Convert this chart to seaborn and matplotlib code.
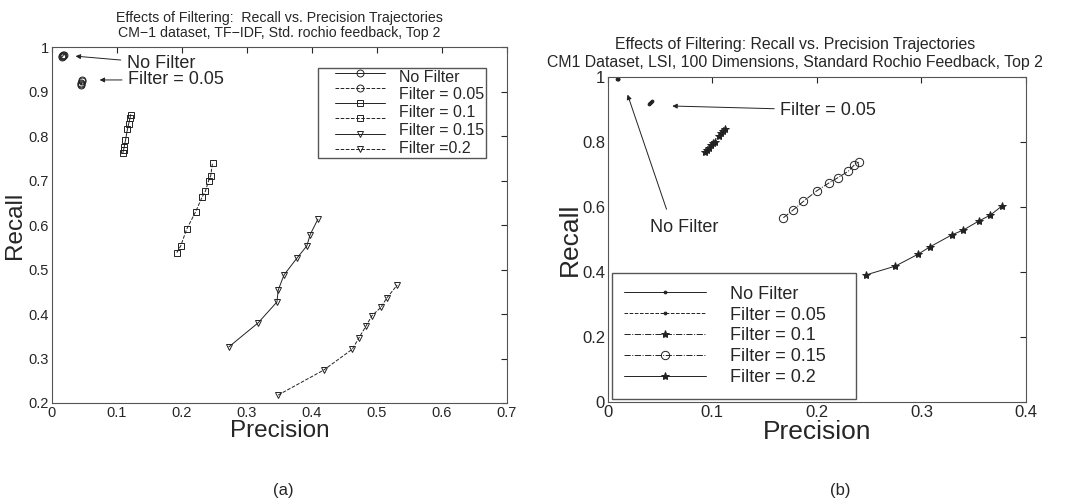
import seaborn as sns
import matplotlib.pyplot as plt
from matplotlib.lines import Line2D
from matplotlib.ticker import FuncFormatter

# ---- data ----
# (a) CM-1, TF-IDF
a_labels = ['No Filter', 'Filter = 0.05', 'Filter = 0.1', 'Filter = 0.15', 'Filter =0.2']
a_nofilter_p = [0.015, 0.016, 0.017, 0.017, 0.018]
a_nofilter_r = [0.978, 0.979, 0.980, 0.981, 0.983]
a_f005_p = [0.044, 0.045, 0.045, 0.046, 0.046]
a_f005_r = [0.914, 0.917, 0.920, 0.923, 0.926]
a_f01_p = [0.109, 0.110, 0.111, 0.113, 0.116, 0.118, 0.120, 0.121]
a_f01_r = [0.762, 0.768, 0.775, 0.790, 0.815, 0.828, 0.840, 0.848]
a_f015sq_p = [0.192, 0.198, 0.207, 0.221, 0.231, 0.236, 0.241, 0.244, 0.247]
a_f015sq_r = [0.538, 0.553, 0.590, 0.630, 0.663, 0.676, 0.700, 0.710, 0.740]
a_f015_p = [0.272, 0.317, 0.346, 0.348, 0.357, 0.377, 0.392, 0.397, 0.409]
a_f015_r = [0.326, 0.380, 0.427, 0.454, 0.488, 0.526, 0.553, 0.578, 0.613]
a_f02_p = [0.348, 0.418, 0.462, 0.472, 0.483, 0.492, 0.506, 0.515, 0.531]
a_f02_r = [0.218, 0.274, 0.321, 0.346, 0.373, 0.396, 0.415, 0.436, 0.465]

# (b) CM1, LSI 100 dims
b_labels = ['No Filter', 'Filter = 0.05', 'Filter = 0.1', 'Filter = 0.15', 'Filter = 0.2']
b_nofilter_p = [0.009, 0.0095, 0.010]
b_nofilter_r = [0.993, 0.994, 0.995]
b_f005_p = [0.039, 0.040, 0.041, 0.042]
b_f005_r = [0.918, 0.921, 0.924, 0.926]
b_f01_p = [0.093, 0.095, 0.097, 0.099, 0.101, 0.103, 0.106, 0.108, 0.110, 0.112]
b_f01_r = [0.768, 0.775, 0.782, 0.790, 0.797, 0.800, 0.820, 0.828, 0.835, 0.840]
b_f015_p = [0.168, 0.177, 0.187, 0.200, 0.212, 0.220, 0.230, 0.236, 0.240]
b_f015_r = [0.567, 0.590, 0.617, 0.650, 0.675, 0.690, 0.710, 0.730, 0.738]
b_f02_p = [0.247, 0.275, 0.297, 0.308, 0.329, 0.340, 0.355, 0.366, 0.377]
b_f02_r = [0.391, 0.418, 0.455, 0.477, 0.514, 0.529, 0.557, 0.575, 0.603]

sns.set_style('white')
plt.rcParams['font.family'] = ['Liberation Sans', 'DejaVu Sans']

fig = plt.figure(figsize=(10.72, 5.04), dpi=100)
ax1 = fig.add_axes([0.0485, 0.2004, 0.4245, 0.7063])
ax2 = fig.add_axes([0.567, 0.2024, 0.390, 0.6448])

ink = '#222222'
fmt = FuncFormatter(lambda v, pos: '%g' % round(v, 3))

# ---- panel (a) ----
a_series = [(a_nofilter_p, a_nofilter_r, '-', 'o'),
            (a_f005_p, a_f005_r, '--', 'o'),
            (a_f01_p, a_f01_r, '-', 's'),
            (a_f015sq_p, a_f015sq_r, '--', 's'),
            (a_f015_p, a_f015_r, '-', 'v'),
            (a_f02_p, a_f02_r, '--', 'v')]
for px, ry, ls, mk in a_series:
    sns.lineplot(x=px, y=ry, ax=ax1, sort=False, estimator=None, color=ink,
                 linestyle=ls, linewidth=0.7, marker=mk, markersize=5,
                 markerfacecolor='none', markeredgecolor=ink, markeredgewidth=0.7)

ax1.set_xlim(0, 0.7)
ax1.set_ylim(0.2, 1.0)
ax1.set_xticks([0, 0.1, 0.2, 0.3, 0.4, 0.5, 0.6, 0.7])
ax1.set_yticks([0.2, 0.3, 0.4, 0.5, 0.6, 0.7, 0.8, 0.9, 1.0])
ax1.xaxis.set_major_formatter(fmt)
ax1.yaxis.set_major_formatter(fmt)
ax1.tick_params(labelsize=10.5, direction='in', top=True, right=True, length=4, pad=2)
ax1.set_xlabel('Precision', fontsize=17.5, labelpad=0)
ax1.set_ylabel('Recall', fontsize=17.5, labelpad=2)
ax1.set_title('Effects of Filtering:  Recall vs. Precision Trajectories\n'
              'CM\u22121 dataset, TF\u2212IDF, Std. rochio feedback, Top 2',
              fontsize=10.2, pad=7, linespacing=1.15)

# six line samples but only five labels, as in the original legend
handles_a = [Line2D([], [], color=ink, linestyle=ls, linewidth=0.7, marker=mk,
                    markersize=5, markerfacecolor='none', markeredgewidth=0.7)
             for _, _, ls, mk in a_series]
leg_lines = ax1.legend(handles=handles_a, labels=[' '] * 6, loc='upper left',
                       bbox_to_anchor=(0.622, 0.9396), fontsize=8, handlelength=4.5,
                       handletextpad=0, labelspacing=0.47, borderpad=0,
                       borderaxespad=0, frameon=False)
ax1.add_artist(leg_lines)
blank = [Line2D([], [], linestyle='none') for _ in a_labels]
ax1.legend(handles=blank, labels=a_labels, loc='upper left',
           bbox_to_anchor=(0.585, 0.941), fontsize=11.5, handlelength=4.15,
           handletextpad=0.8, labelspacing=0.18, borderpad=0.1, borderaxespad=0,
           fancybox=False, edgecolor='#555555', facecolor='none', framealpha=1)

ax1.annotate('No Filter', xy=(0.032, 0.980), xytext=(0.115, 0.963),
             fontsize=13, va='center', ha='left',
             arrowprops=dict(arrowstyle='-|>', color=ink, lw=0.7, mutation_scale=7))
ax1.annotate('Filter = 0.05', xy=(0.069, 0.926), xytext=(0.117, 0.926),
             fontsize=13, va='center', ha='left',
             arrowprops=dict(arrowstyle='-|>', color=ink, lw=0.7, mutation_scale=7))

# ---- panel (b) ----
b_series = [(b_nofilter_p, b_nofilter_r, '-', '.', 4),
            (b_f005_p, b_f005_r, '--', '.', 4),
            (b_f01_p, b_f01_r, '-.', '*', 6),
            (b_f015_p, b_f015_r, '-.', 'o', 6),
            (b_f02_p, b_f02_r, '-', '*', 6)]
for (px, ry, ls, mk, ms), lab in zip(b_series, b_labels):
    face = 'none' if mk == 'o' else ink
    sns.lineplot(x=px, y=ry, ax=ax2, sort=False, estimator=None, color=ink,
                 linestyle=ls, linewidth=0.7, marker=mk, markersize=ms,
                 markerfacecolor=face, markeredgecolor=ink, markeredgewidth=0.7,
                 label=lab)

ax2.set_xlim(0, 0.4)
ax2.set_ylim(0, 1.0)
ax2.set_xticks([0, 0.1, 0.2, 0.3, 0.4])
ax2.set_yticks([0, 0.2, 0.4, 0.6, 0.8, 1.0])
ax2.xaxis.set_major_formatter(fmt)
ax2.yaxis.set_major_formatter(fmt)
ax2.tick_params(labelsize=12, direction='in', top=True, right=True, length=4, pad=2)
ax2.set_xlabel('Precision', fontsize=19, labelpad=0)
ax2.set_ylabel('Recall', fontsize=19, labelpad=0)
ax2.set_title('Effects of Filtering: Recall vs. Precision Trajectories\n'
              'CM1 Dataset, LSI, 100 Dimensions, Standard Rochio Feedback, Top 2',
              fontsize=11.4, pad=7, linespacing=1.3, x=0.447)
ax2.legend(loc='lower left', bbox_to_anchor=(0.0096, 0.009, 0.584, 0.3), mode='expand',
           fontsize=13, handlelength=4.5, handletextpad=1.33, labelspacing=0.22,
           borderpad=0.7, borderaxespad=0, fancybox=False, edgecolor='#555555',
           framealpha=1)
ax2.annotate('Filter = 0.05', xy=(0.059, 0.911), xytext=(0.165, 0.898),
             fontsize=13, va='center', ha='left',
             arrowprops=dict(arrowstyle='-|>', color=ink, lw=0.7, mutation_scale=7))
ax2.annotate('', xy=(0.018, 0.954), xytext=(0.057, 0.585),
             arrowprops=dict(arrowstyle='-|>', color=ink, lw=0.7, mutation_scale=7))
ax2.text(0.040, 0.538, 'No Filter', fontsize=13, va='center', ha='left')

for ax in (ax1, ax2):
    for s in ax.spines.values():
        s.set_color('#555555')
        s.set_linewidth(0.8)

fig.text(283 / 1072, 1 - 490 / 504, '(a)', fontsize=12, ha='center', va='center')
fig.text(840 / 1072, 1 - 490 / 504, '(b)', fontsize=12, ha='center', va='center')

fig.savefig('out.png', dpi=100)
